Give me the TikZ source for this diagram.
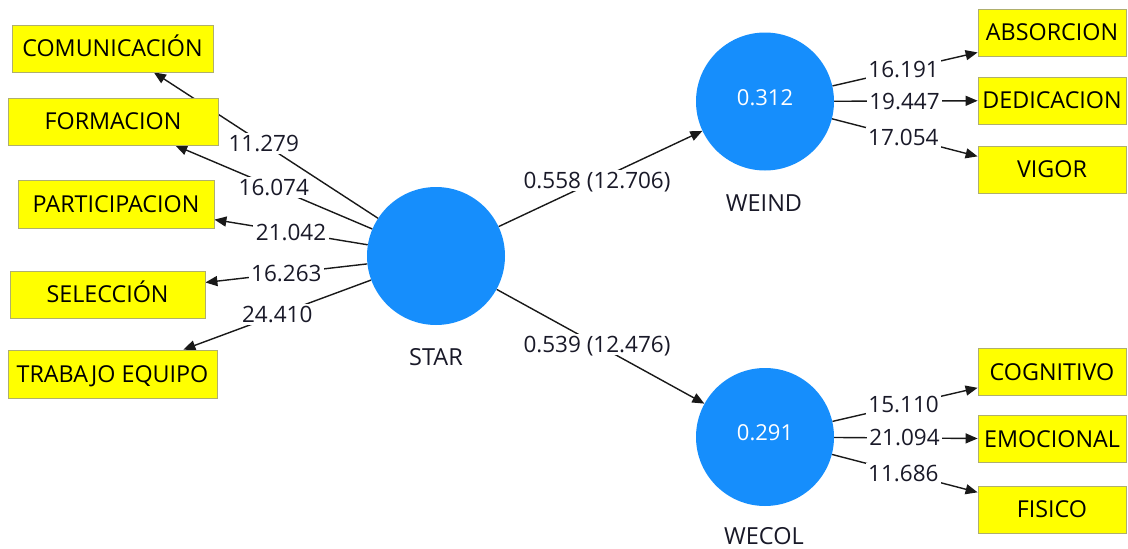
\documentclass[tikz,border=0pt]{standalone}
\usepackage{fontspec}
\setmainfont{Open Sans}
\usetikzlibrary{arrows.meta,backgrounds}
\definecolor{lvblue}{RGB}{22,142,252}
\definecolor{mvyellow}{RGB}{255,255,0}
\definecolor{mvedge}{RGB}{175,175,110}
\definecolor{pathgray}{RGB}{25,25,25}
\definecolor{labelink}{RGB}{25,25,40}
\begin{document}
\begin{tikzpicture}[x=1pt,y=-1pt,
  font=\fontsize{22}{26}\selectfont,
  indicator/.style={draw=mvedge, line width=0.8pt, fill=mvyellow, minimum height=47pt,
    inner sep=0pt, text=black, font=\fontsize{23.3}{27}\selectfont,
    text height=16.6pt, text depth=0pt},
  latent/.style={circle, fill=lvblue, minimum size=138pt, inner sep=0pt, text=white,
    text height=15.7pt, text depth=8pt},
  caption/.style={text=labelink, inner sep=0pt, font=\fontsize{23.5}{27}\selectfont,
    text height=16.8pt, text depth=0pt},
  link/.style={draw=pathgray, line width=1.4pt, -{Triangle[length=12pt,width=10pt]}},
  coef/.style={fill=white, inner sep=2.5pt, text=labelink, font=\fontsize{22.5}{26}\selectfont,
    text height=16pt, text depth=0pt, pos=0.5},
]
\useasboundingbox (0,0) rectangle (1128,549);

% reflective indicators of STAR
\node[indicator, minimum width=201pt] (comm) at (112.5,48.5) {COMUNICACIÓN};
\node[indicator, minimum width=210pt] (form) at (113,121.5) {FORMACION};
\node[indicator, minimum width=196pt, minimum height=48pt] (part) at (116,204) {PARTICIPACION};
\node[indicator, minimum width=195pt] (sel) at (107.5,294.5) {SELECCIÓN};
\node[indicator, minimum width=209pt, minimum height=48pt] (trab) at (112.5,374) {TRABAJO EQUIPO};

% indicators of WEIND
\node[indicator, minimum width=148pt] (abs) at (1052,32.5) {ABSORCION};
\node[indicator, minimum width=148pt] (dedi) at (1052,100.5) {DEDICACION};
\node[indicator, minimum width=148pt] (vig) at (1052,169.5) {VIGOR};

% indicators of WECOL
\node[indicator, minimum width=148pt] (cog) at (1052,372) {COGNITIVO};
\node[indicator, minimum width=148pt] (emo) at (1052,439) {EMOCIONAL};
\node[indicator, minimum width=148pt] (fis) at (1052,509.5) {FISICO};

% latent variables with R-squared values
\node[latent] (star) at (436,256) {};
\node[latent] (weind) at (765,101.5) {0.312};
\node[latent] (wecol) at (765,437) {0.291};
\node[caption] (starcap) at (436,357) {STAR};
\node[caption] (weindcap) at (764,203) {WEIND};
\node[caption] (wecolcap) at (764,536.5) {WECOL};

\begin{scope}[on background layer]
  \fill[white] (0,0) rectangle (1128,549);
  % outer loadings of STAR
  \path[link] (star) -- node[coef, pos=0.51]{11.279} (comm.-30.75);
  \path[link] (star) -- node[coef]{16.074} (form.-21.4);
  \path[link] (star) -- node[coef]{21.042} (part.-9.27);
  \path[link] (star) -- node[coef]{16.263} (sel.7.3);
  \path[link] (star) -- node[coef]{24.410} (trab.19.05);
  % structural paths
  \path[link] (star) -- node[coef, pos=0.483]{0.558 (12.706)} (weind);
  \path[link] (star) -- node[coef, pos=0.483]{0.539 (12.476)} (wecol);
  % outer loadings of WEIND
  \path[link] (weind) -- node[coef, pos=0.49]{16.191} (abs.-165.24);
  \path[link] (weind) -- node[coef, pos=0.49]{19.447} (dedi);
  \path[link] (weind) -- node[coef, pos=0.49]{17.054} (vig.170.4);
  % outer loadings of WECOL
  \path[link] (wecol) -- node[coef, pos=0.49]{15.110} (cog.-168.5);
  \path[link] (wecol) -- node[coef, pos=0.49]{21.094} (emo);
  \path[link] (wecol) -- node[coef, pos=0.49]{11.686} (fis.167.4);
\end{scope}
\end{tikzpicture}
\end{document}
